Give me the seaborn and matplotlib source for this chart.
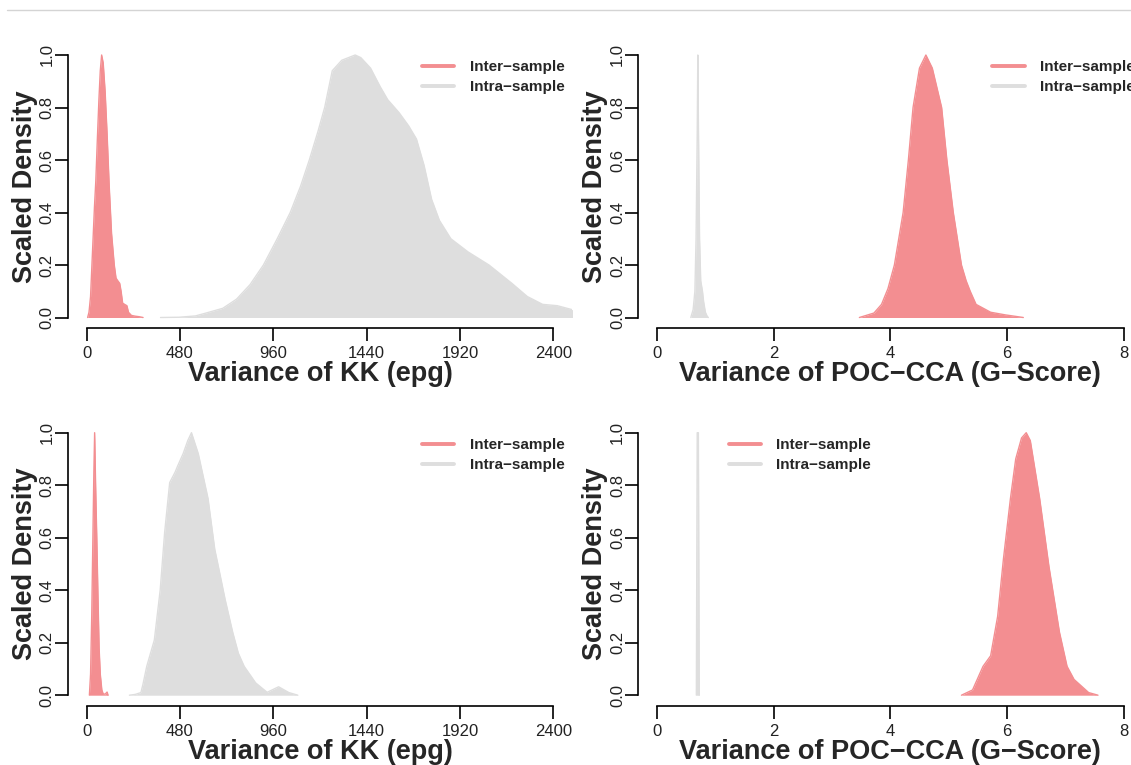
import seaborn as sns
import matplotlib.pyplot as plt
from matplotlib.lines import Line2D

# Scaled density curves
# top row
kk_inter_top_x = [5, 12, 20, 30, 40, 47, 55, 63, 70, 77, 85, 95, 105, 116, 128, 142, 151, 160, 170, 177, 185, 195, 207, 215, 230, 250, 270, 290]
kk_inter_top_y = [0, 0.02, 0.08, 0.25, 0.42, 0.52, 0.68, 0.83, 0.94, 1.0, 0.97, 0.86, 0.7, 0.5, 0.32, 0.2, 0.15, 0.14, 0.13, 0.1, 0.055, 0.05, 0.045, 0.02, 0.008, 0.005, 0.003, 0]
kk_intra_top_x = [380, 476, 560, 614, 700, 771, 840, 909, 980, 1047, 1100, 1145, 1190, 1224, 1263, 1312, 1381, 1410, 1460, 1509, 1548, 1607, 1656, 1696, 1735, 1774, 1814, 1873, 1961, 2069, 2187, 2266, 2345, 2420, 2496, 2560]
kk_intra_top_y = [0, 0.001, 0.006, 0.017, 0.035, 0.07, 0.125, 0.2, 0.3, 0.4, 0.5, 0.6, 0.71, 0.8, 0.94, 0.98, 1.0, 0.99, 0.95, 0.88, 0.83, 0.78, 0.73, 0.68, 0.58, 0.45, 0.37, 0.3, 0.25, 0.2, 0.13, 0.08, 0.05, 0.045, 0.03, 0.02]
poc_inter_top_x = [3.47, 3.72, 3.85, 3.96, 4.07, 4.22, 4.31, 4.39, 4.50, 4.61, 4.72, 4.88, 4.97, 5.08, 5.22, 5.30, 5.37, 5.47, 5.72, 5.97, 6.28]
poc_inter_top_y = [0, 0.017, 0.05, 0.11, 0.2, 0.4, 0.6, 0.8, 0.95, 1.0, 0.95, 0.8, 0.6, 0.4, 0.2, 0.14, 0.1, 0.05, 0.02, 0.01, 0]
poc_intra_top_x = [0.58, 0.62, 0.65, 0.67, 0.69, 0.70, 0.71, 0.73, 0.75, 0.78, 0.80, 0.83, 0.86, 0.88]
poc_intra_top_y = [0, 0.03, 0.1, 0.3, 0.7, 1.0, 0.75, 0.3, 0.14, 0.1, 0.06, 0.02, 0.005, 0]

# bottom row
kk_inter_bot_x = [14, 20, 26, 32, 37, 41, 46, 52, 58, 64, 70, 78, 85, 95, 105, 110]
kk_inter_bot_y = [0, 0.08, 0.3, 0.6, 0.85, 1.0, 0.8, 0.6, 0.38, 0.18, 0.08, 0.02, 0.005, 0.004, 0.012, 0]
kk_intra_bot_x = [220, 250, 279, 289, 309, 348, 378, 401, 427, 455, 466, 496, 520, 539, 574, 624, 659, 683, 712, 751, 780, 810, 869, 928, 987, 1040, 1086]
kk_intra_bot_y = [0, 0.003, 0.01, 0.04, 0.11, 0.21, 0.4, 0.62, 0.81, 0.85, 0.87, 0.92, 0.97, 1.0, 0.92, 0.75, 0.555, 0.47, 0.365, 0.24, 0.16, 0.11, 0.047, 0.011, 0.032, 0.01, 0]
poc_inter_bot_x = [5.22, 5.41, 5.59, 5.72, 5.84, 5.94, 6.06, 6.15, 6.25, 6.33, 6.40, 6.56, 6.72, 6.81, 6.90, 7.03, 7.15, 7.28, 7.40, 7.56]
poc_inter_bot_y = [0, 0.02, 0.11, 0.15, 0.3, 0.52, 0.75, 0.9, 0.98, 1.0, 0.97, 0.75, 0.49, 0.365, 0.24, 0.11, 0.06, 0.034, 0.01, 0]
poc_intra_bot_x = [0.675, 0.69, 0.71, 0.725]
poc_intra_bot_y = [0, 1.0, 1.0, 0]

kk_ticks = [0, 480, 960, 1440, 1920, 2400]
poc_ticks = [0, 2, 4, 6, 8]
y_ticks = [0, 0.2, 0.4, 0.6, 0.8, 1.0]
y_ticklabels = ["0.0", "0.2", "0.4", "0.6", "0.8", "1.0"]
legend_labels = ["Inter\u2212sample", "Intra\u2212sample"]

inter_col = "#F38E91"
intra_col = "#DEDEDE"

sns.set_style("ticks")
plt.rcParams["font.family"] = ["Liberation Sans", "DejaVu Sans"]

W, H = 1131, 765
fig = plt.figure(figsize=(W / 100, H / 100), dpi=100)

# thin rule at the top of the page
fig.add_artist(Line2D([0.006, 1], [1 - 10 / H] * 2, transform=fig.transFigure, color="#D4D4D4", lw=1))

panels = [
    ((68, 44.5), (kk_inter_top_x, kk_inter_top_y), (kk_intra_top_x, kk_intra_top_y), kk_ticks, "Variance of KK (epg)", "right"),
    ((638.3, 44.5), (poc_inter_top_x, poc_inter_top_y), (poc_intra_top_x, poc_intra_top_y), poc_ticks, "Variance of POC\u2212CCA (G\u2212Score)", "right"),
    ((68, 422.2), (kk_inter_bot_x, kk_inter_bot_y), (kk_intra_bot_x, kk_intra_bot_y), kk_ticks, "Variance of KK (epg)", "right"),
    ((638.3, 422.2), (poc_inter_bot_x, poc_inter_bot_y), (poc_intra_bot_x, poc_intra_bot_y), poc_ticks, "Variance of POC\u2212CCA (G\u2212Score)", "left"),
]

pw, ph = 504, 283.5
for (left, top), inter, intra, ticks, xlabel, leg_side in panels:
    ax = fig.add_axes([left / W, 1 - (top + ph) / H, pw / W, ph / H])
    for (x, y), col in [(intra, intra_col), (inter, inter_col)]:
        ax.fill_between(x, y, 0, color=col, lw=0)
        sns.lineplot(x=x, y=y, color=col, lw=1, ax=ax, solid_capstyle="round")

    pad = 0.04 * (ticks[-1] - ticks[0])
    ax.set_xlim(ticks[0] - pad, ticks[-1] + pad)
    ax.set_ylim(-0.04, 1.04)
    ax.set_xticks(ticks)
    ax.set_xticklabels([str(t) for t in ticks])
    ax.set_yticks(y_ticks)
    ax.set_yticklabels(y_ticklabels)

    sns.despine(ax=ax)
    for side in ["left", "bottom"]:
        ax.spines[side].set_color("black")
        ax.spines[side].set_linewidth(1.2)
    ax.spines["left"].set_bounds(0, 1)
    ax.spines["bottom"].set_bounds(ticks[0], ticks[-1])

    ax.tick_params(direction="out", length=9.6, width=1.2, color="black", labelsize=12, labelcolor="#222222")
    ax.tick_params(axis="x", pad=3.6)
    ax.tick_params(axis="y", pad=0, labelrotation=90)
    for lab in ax.get_yticklabels():
        lab.set_va("center")

    ax.set_xlabel(xlabel, fontsize=19.5, fontweight="bold")
    ax.xaxis.set_label_coords(0.5, -0.117)
    ax.set_ylabel("Scaled Density", fontsize=19.5, fontweight="bold")
    ax.yaxis.set_label_coords(-0.06, 0.5)

    handles = [Line2D([], [], color=inter_col, lw=2.8, solid_capstyle="round"),
               Line2D([], [], color=intra_col, lw=2.8, solid_capstyle="round")]
    if leg_side == "right":
        loc, anchor = "upper right", (1 + 3 / pw, 1 - 5 / ph)
    else:
        loc, anchor = "upper left", ((90.7 - 10.7) / pw, 1 - 5 / ph)
    ax.legend(handles, legend_labels, loc=loc, bbox_to_anchor=anchor, frameon=False,
              prop=dict(weight="bold", size=11), handlelength=2.1, handletextpad=1.0,
              labelspacing=0.4, borderaxespad=0, borderpad=0.7)

fig.savefig("out.png", dpi=100)
